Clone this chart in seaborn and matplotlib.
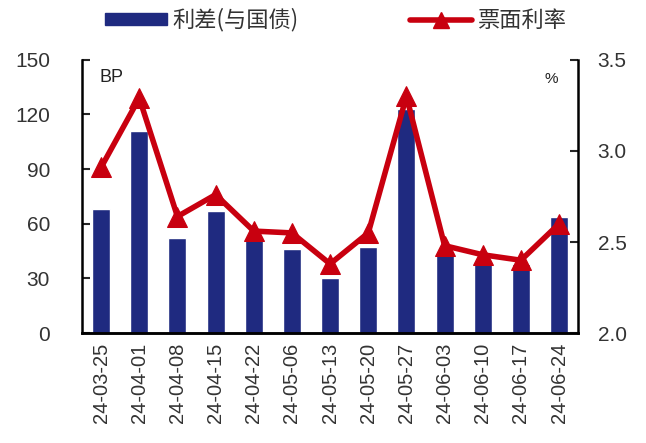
import matplotlib
matplotlib.use("Agg")
import matplotlib.pyplot as plt
import seaborn as sns
import numpy as np
import pandas as pd
from matplotlib.lines import Line2D
from matplotlib.patches import Patch

dates = ["24-03-25", "24-04-01", "24-04-08", "24-04-15", "24-04-22", "24-05-06",
         "24-05-13", "24-05-20", "24-05-27", "24-06-03", "24-06-10", "24-06-17", "24-06-24"]
spread_bp = [68, 111, 52, 67, 53, 46, 30, 47, 123, 45, 39, 38, 64]
coupon_pct = [2.91, 3.29, 2.64, 2.76, 2.56, 2.55, 2.38, 2.55, 3.30, 2.48, 2.43, 2.40, 2.60]
left_ticks = [0, 30, 60, 90, 120, 150]
right_ticks = [2.0, 2.5, 3.0, 3.5]
bar_label = "利差(与国债)"
line_label = "票面利率"

sns.set_theme(style="white")
plt.rcParams['font.family'] = ['Noto Sans CJK SC', 'DejaVu Sans']

navy = "#1F2A80"
red = "#C8000F"
latin = ['Liberation Sans', 'DejaVu Sans']

df = pd.DataFrame({"date": dates, "spread": spread_bp, "coupon": coupon_pct,
                   "pos": np.arange(len(dates))})

fig = plt.figure(figsize=(6.46, 4.43), dpi=100)
ax = fig.add_axes([0.127, 0.248, 0.768, 0.617])
sns.barplot(data=df, x="date", y="spread", color=navy, width=0.47, ax=ax,
            saturation=1, zorder=2)
ax.set_xlim(-0.5, len(dates) - 0.5)
ax.set_ylim(0, 150)
ax.set_yticks(left_ticks)
ax.set_xlabel("")
ax.set_ylabel("")

ax2 = ax.twinx()
sns.lineplot(data=df, x="pos", y="coupon", color=red, linewidth=4, marker="^",
             markersize=14, markeredgecolor=red, markerfacecolor=red, ax=ax2)
ax2.set_ylim(2.0, 3.5)
ax2.set_yticks(right_ticks)
ax2.set_yticklabels([f"{v:.1f}" for v in right_ticks])
ax2.set_xlim(-0.5, len(dates) - 0.5)
ax2.set_xlabel("")
ax2.set_ylabel("")

# x ticks: boundaries as major ticks, labels at centers
ax.set_xticks(np.arange(-0.5, len(dates), 1.0))
ax.set_xticklabels([])
ax.set_xticks(np.arange(len(dates)), minor=True)
ax.set_xticklabels(dates, minor=True, rotation=90, fontsize=14.5, color="#333333",
                   family=latin)
ax.tick_params(axis="x", which="major", direction="out", length=6, width=1.5, color="black")
ax.tick_params(axis="x", which="minor", length=0, pad=7)
ax.tick_params(axis="y", direction="in", length=6, width=1.5, pad=23, labelsize=15,
               labelcolor="#333333")
ax2.tick_params(axis="y", direction="in", length=6, width=1.5, pad=14, labelsize=15,
                labelcolor="#333333")
for t in ax.get_yticklabels() + ax2.get_yticklabels():
    t.set_family(latin)

for a in (ax, ax2):
    for s in a.spines.values():
        s.set_visible(False)
    a.spines["left"].set_visible(a is ax)
    a.spines["right"].set_visible(a is ax2)
    a.spines["bottom"].set_visible(True)
    for k in ("left", "right", "bottom"):
        a.spines[k].set_color("black")
        a.spines[k].set_linewidth(1.8)
ax.grid(False)
ax2.grid(False)

ax.text(0.035, 0.965, "BP", transform=ax.transAxes, ha="left", va="top",
        fontsize=13, color="#222222", family=latin)
ax.text(0.945, 0.955, "%", transform=ax.transAxes, ha="center", va="top",
        fontsize=11, color="#222222", family=latin)

handles = [Patch(facecolor=navy, edgecolor=navy),
           Line2D([0], [0], color=red, linewidth=4, marker="^", markersize=12)]
fig.legend(handles, [bar_label, line_label], loc="center", bbox_to_anchor=(0.52, 0.955),
           ncol=2, frameon=False, fontsize=16, handlelength=2.8, handleheight=0.45,
           columnspacing=5.0, handletextpad=0.25, labelcolor="#333333")

fig.savefig("out.png", dpi=100)
